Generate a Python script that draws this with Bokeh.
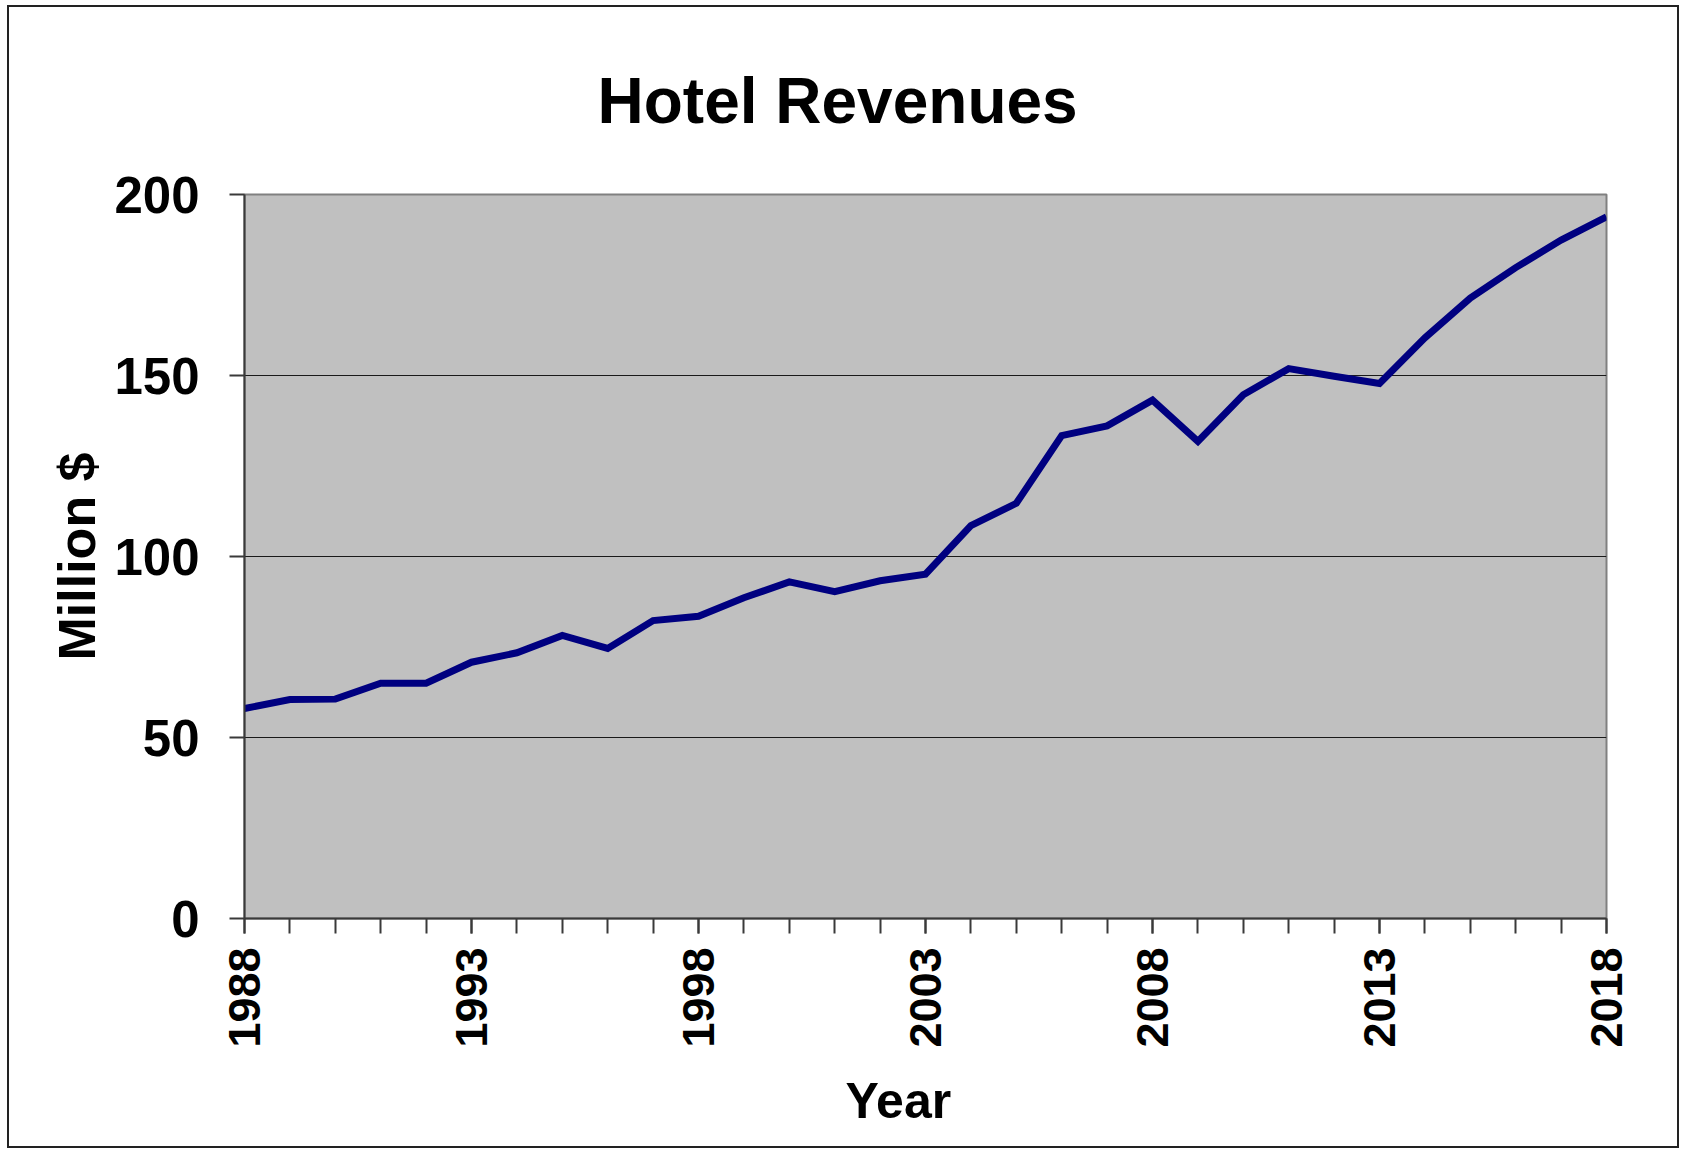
import math
from bokeh.plotting import figure
from bokeh.models import FixedTicker, Range1d, Title
from bokeh.embed import file_html
from bokeh.resources import INLINE

chart_title = "Hotel Revenues"
years = list(range(1988, 2019))
revenue = [58.0, 60.5, 60.6, 65.0, 65.0, 70.8, 73.4, 78.2, 74.6, 82.3,
           83.5, 88.6, 93.0, 90.3, 93.3, 95.1, 108.5, 114.7, 133.4, 136.1,
           143.2, 131.8, 144.7, 151.9, 149.8, 147.8, 160.4, 171.4, 179.8, 187.4, 193.8]
x_label_years = [1988, 1993, 1998, 2003, 2008, 2013, 2018]
y_ticks = [0, 50, 100, 150, 200]

FONT = "Liberation Sans"

p = figure(width=1672, height=1143, output_backend="svg", toolbar_location=None,
           x_range=Range1d(years[0], years[-1]), y_range=Range1d(y_ticks[0], y_ticks[-1]),
           y_axis_label="Million $",
           min_border_left=235, min_border_right=75, min_border_top=187, min_border_bottom=232)

p.styles = {"border": "2px solid #222222", "margin-left": "7px", "margin-top": "5px"}

p.background_fill_color = "#C0C0C0"
p.border_fill_color = "white"
p.outline_line_color = "#808080"
p.outline_line_width = 2

p.title.text = chart_title
p.title.text_font = FONT
p.title.text_font_size = "64px"
p.title.text_font_style = "bold"
p.title.align = "left"
p.title.offset = 353
p.title.vertical_align = "top"
p.title.text_color = "black"
p.title.standoff = 112

x_title = Title(text="Year", align="left", offset=601, standoff=40,
                text_font=FONT, text_font_size="50px", text_font_style="bold",
                text_color="black")
p.add_layout(x_title, "below")

p.xgrid.visible = False
p.ygrid.ticker = FixedTicker(ticks=y_ticks)
p.ygrid.grid_line_color = "#1a1a1a"
p.ygrid.grid_line_width = 1.2

p.xaxis.ticker = FixedTicker(ticks=x_label_years, minor_ticks=years)
p.yaxis.ticker = FixedTicker(ticks=y_ticks)

for ax in (p.xaxis[0], p.yaxis[0]):
    ax.axis_line_color = "#3a3a3a"
    ax.axis_line_width = 2
    ax.major_tick_line_color = "#3a3a3a"
    ax.major_tick_line_width = 2
    ax.major_tick_in = 0
    ax.major_tick_out = 15
    ax.minor_tick_line_color = "#3a3a3a"
    ax.minor_tick_line_width = 2
    ax.minor_tick_in = 0
    ax.minor_tick_out = 15
    ax.major_label_text_font = FONT
    ax.major_label_text_font_style = "bold"
    ax.major_label_text_color = "black"
    ax.axis_label_text_font = FONT
    ax.axis_label_text_font_style = "bold"
    ax.axis_label_text_color = "black"

p.yaxis.major_label_text_font_size = "51px"
p.yaxis.major_label_standoff = 30
p.yaxis.minor_tick_line_color = None
p.yaxis.axis_label_text_font_size = "52px"
p.yaxis.axis_label_standoff = 5

p.xaxis.major_label_text_font_size = "45px"
p.xaxis.major_label_orientation = math.pi / 2
p.xaxis.major_label_standoff = 14

p.line(years, revenue, line_color="#000080", line_width=7, line_join="miter")

open("out.html", "w").write(file_html(p, INLINE))
